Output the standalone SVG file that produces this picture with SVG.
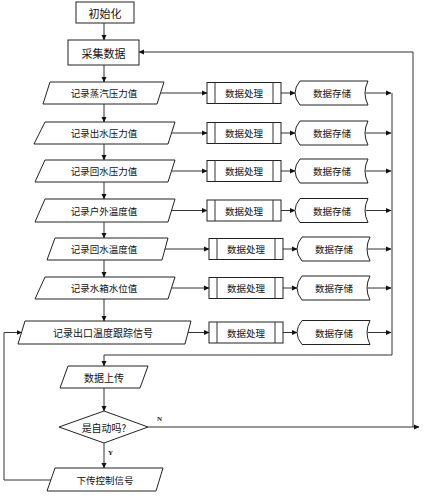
<svg xmlns="http://www.w3.org/2000/svg" width="424" height="500" viewBox="0 0 424 500">
<defs>
<marker id="arr" markerWidth="6" markerHeight="6" refX="5" refY="3" orient="auto" markerUnits="userSpaceOnUse">
<path d="M0,0.5 L5.5,3 L0,5.5 Z" fill="#111"/>
</marker>
</defs>
<style>
.s{fill:#fff;stroke:#222;stroke-width:1}
.t{font-family:"Noto Sans CJK SC","Liberation Sans",sans-serif;font-size:9.5px;fill:#111;text-anchor:middle;dominant-baseline:central}
.big{font-size:11px}
.m{font-size:10px}
.lbl{font-family:"Liberation Serif",serif;font-size:7px;font-weight:bold;fill:#111}
.c{fill:none;stroke:#333;stroke-width:1}
.a{marker-end:url(#arr)}
</style>
<rect width="424" height="500" fill="#fff"/>
<g id="connectors">
<path class="c a" d="M104,23 V40"/>
<path class="c a" d="M104,65 V82"/>
<path class="c a" d="M104,104 V122"/>
<path class="c a" d="M104,144 V160"/>
<path class="c a" d="M104,182 V199"/>
<path class="c a" d="M104,222 V238"/>
<path class="c a" d="M104,260 V277"/>
<path class="c a" d="M104,299 V321"/>
<path class="c a" d="M160.5,93 H207"/>
<path class="c a" d="M171.5,133 H207"/>
<path class="c a" d="M171.5,171 H207"/>
<path class="c a" d="M171.5,210.5 H207"/>
<path class="c a" d="M165,249 H209"/>
<path class="c a" d="M171.5,288 H209"/>
<path class="c a" d="M188,332.5 H209"/>
<path class="c a" d="M281,93 H295"/>
<path class="c a" d="M281,133 H295"/>
<path class="c a" d="M281,171 H295"/>
<path class="c a" d="M281,210.5 H295"/>
<path class="c a" d="M283,249 H297"/>
<path class="c a" d="M283,288 H297"/>
<path class="c a" d="M283,332.5 H297"/>
<path class="c a" d="M365.5,93 H391"/>
<path class="c a" d="M365.5,133 H391"/>
<path class="c a" d="M365.5,171 H391"/>
<path class="c a" d="M365.5,210.5 H391"/>
<path class="c a" d="M367.5,249 H391"/>
<path class="c a" d="M367.5,288 H391"/>
<path class="c a" d="M367.5,332.5 H391"/>
<path class="c" d="M392,93 V355 H104"/>
<path class="c a" d="M104,355 V366"/>
<path class="c a" d="M104,388 V411"/>
<path class="c a" d="M104,443 V468"/>
<path class="c a" d="M148,427 H419"/>
<path class="c a" d="M413,427 V52 H139"/>
<path class="c a" d="M51,480 H4 V332.5 H21.5"/>
<text class="lbl" x="157" y="421">N</text>
<text class="lbl" x="108" y="455">Y</text>
</g>
<g id="init"><rect class="s" x="76" y="2" width="58" height="21"/><text class="t big" x="105" y="12.5">初始化</text></g>
<g id="collect"><rect class="s" x="68" y="40" width="71" height="25"/><text class="t big" x="103.5" y="52.5">采集数据</text></g>
<g id="rec1"><polygon class="s" points="50,82 164,82 157,104 43,104"/><text class="t" x="104" y="93">记录蒸汽压力值</text></g>
<g id="rec2"><polygon class="s" points="45,122 175,122 168,144 34,144"/><text class="t" x="104" y="133">记录出水压力值</text></g>
<g id="rec3"><polygon class="s" points="45,160 175,160 168,182 35,182"/><text class="t" x="104" y="171">记录回水压力值</text></g>
<g id="rec4"><polygon class="s" points="45,199 175,199 168,222 35,222"/><text class="t" x="104" y="210.5">记录户外温度值</text></g>
<g id="rec5"><polygon class="s" points="55,238 168,238 162,260 47,260"/><text class="t" x="104" y="249">记录回水温度值</text></g>
<g id="rec6"><polygon class="s" points="45,277 175,277 168,299 35,299"/><text class="t" x="104" y="288">记录水箱水位值</text></g>
<g id="rec7"><polygon class="s" points="25,321 191,321 185,344 18,344"/><text class="t m" x="103" y="332.5">记录出口温度跟踪信号</text></g>
<g id="proc1"><rect class="s" x="207" y="82.5" width="74" height="21"/><path class="c" d="M215,82.5 V103.5 M273,82.5 V103.5"/><text class="t" x="244" y="93">数据处理</text></g>
<g id="proc2"><rect class="s" x="207" y="122.5" width="74" height="21"/><path class="c" d="M215,122.5 V143.5 M273,122.5 V143.5"/><text class="t" x="244" y="133">数据处理</text></g>
<g id="proc3"><rect class="s" x="207" y="160.5" width="74" height="21"/><path class="c" d="M215,160.5 V181.5 M273,160.5 V181.5"/><text class="t" x="244" y="171">数据处理</text></g>
<g id="proc4"><rect class="s" x="207" y="200" width="74" height="21"/><path class="c" d="M215,200 V221 M273,200 V221"/><text class="t" x="244" y="210.5">数据处理</text></g>
<g id="proc5"><rect class="s" x="209" y="238.5" width="74" height="21"/><path class="c" d="M217,238.5 V259.5 M275,238.5 V259.5"/><text class="t" x="246" y="249">数据处理</text></g>
<g id="proc6"><rect class="s" x="209" y="277.5" width="74" height="21"/><path class="c" d="M217,277.5 V298.5 M275,277.5 V298.5"/><text class="t" x="246" y="288">数据处理</text></g>
<g id="proc7"><rect class="s" x="209" y="322" width="74" height="21"/><path class="c" d="M217,322 V343 M275,322 V343"/><text class="t" x="246" y="332.5">数据处理</text></g>
<g id="store1"><path class="s" d="M300,81 H368 Q362,93 368,105 H300 Q290,93 300,81 Z"/><text class="t" x="332" y="93">数据存储</text></g>
<g id="store2"><path class="s" d="M300,121 H368 Q362,133 368,145 H300 Q290,133 300,121 Z"/><text class="t" x="332" y="133">数据存储</text></g>
<g id="store3"><path class="s" d="M300,159 H368 Q362,171 368,183 H300 Q290,171 300,159 Z"/><text class="t" x="332" y="171">数据存储</text></g>
<g id="store4"><path class="s" d="M300,198.5 H368 Q362,210.5 368,222.5 H300 Q290,210.5 300,198.5 Z"/><text class="t" x="332" y="210.5">数据存储</text></g>
<g id="store5"><path class="s" d="M302,237 H370 Q364,249 370,261 H302 Q292,249 302,237 Z"/><text class="t" x="334" y="249">数据存储</text></g>
<g id="store6"><path class="s" d="M302,276 H370 Q364,288 370,300 H302 Q292,288 302,276 Z"/><text class="t" x="334" y="288">数据存储</text></g>
<g id="store7"><path class="s" d="M302,320.5 H370 Q364,332.5 370,344.5 H302 Q292,332.5 302,320.5 Z"/><text class="t" x="334" y="332.5">数据存储</text></g>
<g id="upload"><polygon class="s" points="68,366 148,366 140,388 60,388"/><text class="t m" x="104" y="377">数据上传</text></g>
<g id="auto"><polygon class="s" points="104,411 148,427 104,443 59,427"/><text class="t m" x="104" y="427">是自动吗?</text></g>
<g id="send"><polygon class="s" points="55,468 163,468 156,491 47,491"/><text class="t" x="105" y="479.5">下传控制信号</text></g>
</svg>
